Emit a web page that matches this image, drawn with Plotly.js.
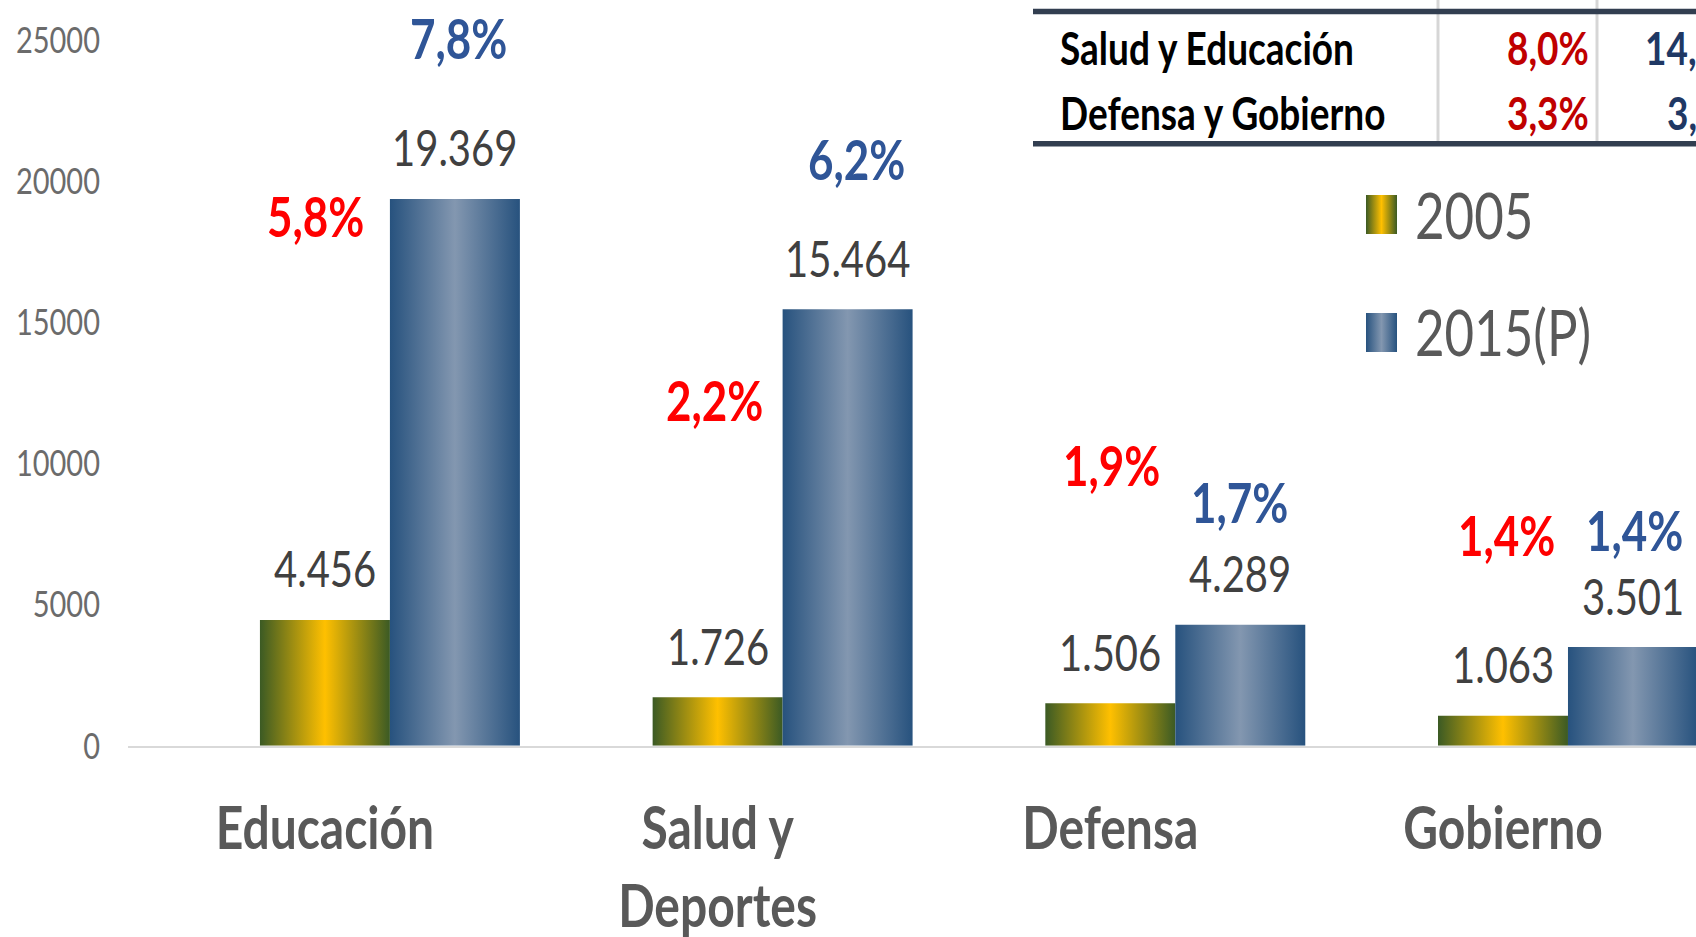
<!DOCTYPE html>
<html>
<head>
<meta charset="utf-8">
<script src="https://cdn.plot.ly/plotly-3.0.1.min.js"></script>
<style>
  html, body { margin: 0; padding: 0; background: #ffffff; width: 1696px; height: 937px; overflow: hidden; }
  #wrap { width: 1696px; height: 937px; position: relative; overflow: visible; }
  #chart { position: absolute; left: 0; top: 0; width: 1696px; height: 750px; transform: scaleY(1.24933); transform-origin: 0 0; }
</style>
</head>
<body>
<div id="wrap"><div id="chart"></div></div>
<script>
// ---------- DATA ----------
const categories = ['Educación', 'Salud y<br>Deportes', 'Defensa', 'Gobierno'];
const series2005 = [4456, 1726, 1506, 1063];
const series2015 = [19369, 15464, 4289, 3501];
const labels2005 = ['4.456', '1.726', '1.506', '1.063'];
const labels2015 = ['19.369', '15.464', '4.289', '3.501'];
const pct2005 = ['5,8%', '2,2%', '1,9%', '1,4%'];
const pct2015 = ['7,8%', '6,2%', '1,7%', '1,4%'];
const seriesNames = ['2005', '2015(P)'];
const yTicks = [0, 5000, 10000, 15000, 20000, 25000];
const tableRows = ['Salud y Educación', 'Defensa y Gobierno'];
const tableCol2005 = ['8,0%', '3,3%'];
const tableCol2015 = ['14,', '3,'];   // visible (cropped) part of the last column

// ---------- LAYOUT CONSTANTS (positions / styles) ----------
const S = 937 / 750;            // vertical stretch of the page
const W = 1696, H = 750;
const ML = 128, MB = 153, MT = 0, MR = 0;
const plotW = W - ML - MR, plotH = H - MT - MB;
const FONT = 'Lato, "Open Sans", "Noto Sans", sans-serif';
// page pixel (full x / stretched y) -> paper coords
const px = x => (x - ML) / plotW;
const py = y => 1 - (y / S - MT) / plotH;

// label offsets (pixels) relative to bar tops
const valShift = 41;
const pctShift2005 = [{dx: -9, dy: 323}, {dx: -3, dy: 238}, {dx: 1, dy: 191}, {dx: 4, dy: 145}];
const pctShift2015 = [{dx: 4, dy: 129}, {dx: 9, dy: 121}, {dx: -1, dy: 98}, {dx: 2, dy: 94}];
const barHalf = 65;

const traces = [
  {type: 'bar', name: seriesNames[0], x: categories, y: series2005,
   marker: {color: '#b59a10', line: {width: 0}}, hoverinfo: 'none'},
  {type: 'bar', name: seriesNames[1], x: categories, y: series2015,
   marker: {color: '#4f6f95', line: {width: 0}}, hoverinfo: 'none'}
];

const annotations = [];
categories.forEach((c, i) => {
  annotations.push({x: c, y: series2005[i], xref: 'x', yref: 'y', text: labels2005[i], showarrow: false,
    xshift: -barHalf, yshift: valShift, xanchor: 'center', yanchor: 'middle',
    font: {family: FONT, size: 40, color: '#404040'}});
  annotations.push({x: c, y: series2015[i], xref: 'x', yref: 'y', text: labels2015[i], showarrow: false,
    xshift: barHalf, yshift: valShift, xanchor: 'center', yanchor: 'middle',
    font: {family: FONT, size: 40, color: '#404040'}});
  annotations.push({x: c, y: series2005[i], xref: 'x', yref: 'y', text: '<b>' + pct2005[i] + '</b>', showarrow: false,
    xshift: -barHalf + pctShift2005[i].dx, yshift: pctShift2005[i].dy, xanchor: 'center', yanchor: 'middle',
    font: {family: FONT, size: 44, color: '#ff0000'}});
  annotations.push({x: c, y: series2015[i], xref: 'x', yref: 'y', text: '<b>' + pct2015[i] + '</b>', showarrow: false,
    xshift: barHalf + pctShift2015[i].dx, yshift: pctShift2015[i].dy, xanchor: 'center', yanchor: 'middle',
    font: {family: FONT, size: 44, color: '#2f5597'}});
});

// legend (hand-drawn)
const legendY = [214.5, 332];
seriesNames.forEach((n, i) => {
  annotations.push({xref: 'paper', yref: 'paper', x: px(1413), y: py(legendY[i]), text: n, showarrow: false,
    xanchor: 'left', yanchor: 'middle', font: {family: FONT, size: 51, color: '#595959'}});
});

// table
const rowY = [47, 112];
tableRows.forEach((r, i) => {
  annotations.push({xref: 'paper', yref: 'paper', x: px(1058), y: py(rowY[i]), text: '<b>' + r + '</b>', showarrow: false,
    xanchor: 'left', yanchor: 'middle', font: {family: FONT, size: 37, color: '#000000'}});
  annotations.push({xref: 'paper', yref: 'paper', x: px(1591), y: py(rowY[i]), text: '<b>' + tableCol2005[i] + '</b>', showarrow: false,
    xanchor: 'right', yanchor: 'middle', font: {family: FONT, size: 37, color: '#c00000'}});
  annotations.push({xref: 'paper', yref: 'paper', x: px(1699), y: py(rowY[i]), text: '<b>' + tableCol2015[i] + '</b>', showarrow: false,
    xanchor: 'right', yanchor: 'middle', font: {family: FONT, size: 37, color: '#1f3864'}});
});

const shapes = [
  // legend swatches (index 0,1)
  {type: 'rect', xref: 'paper', yref: 'paper', x0: px(1366), x1: px(1397), y0: py(234), y1: py(195),
   fillcolor: '#b59a10', line: {width: 0}, layer: 'above'},
  {type: 'rect', xref: 'paper', yref: 'paper', x0: px(1366), x1: px(1397), y0: py(352), y1: py(313),
   fillcolor: '#4f6f95', line: {width: 0}, layer: 'above'},
  // table vertical separators
  {type: 'line', xref: 'paper', yref: 'paper', x0: px(1438), x1: px(1438), y0: py(-5), y1: py(142),
   line: {color: '#d6d6d6', width: 3}, layer: 'above'},
  {type: 'line', xref: 'paper', yref: 'paper', x0: px(1597), x1: px(1597), y0: py(-5), y1: py(142),
   line: {color: '#d6d6d6', width: 3}, layer: 'above'},
  // table horizontal rules
  {type: 'line', xref: 'paper', yref: 'paper', x0: px(1033), x1: 1.05, y0: py(11.4), y1: py(11.4),
   line: {color: '#323e50', width: 4.4}, layer: 'above'},
  {type: 'line', xref: 'paper', yref: 'paper', x0: px(1033), x1: 1.05, y0: py(143.8), y1: py(143.8),
   line: {color: '#323e50', width: 4.4}, layer: 'above'}
];

const yTop = plotH / ((745.8 - 40) / S) * 25000;

const layout = {
  width: W, height: H,
  margin: {l: ML, r: MR, t: MT, b: MB, pad: 0},
  paper_bgcolor: '#ffffff', plot_bgcolor: '#ffffff',
  showlegend: false,
  barmode: 'group', bargap: 0.338, bargroupgap: 0,
  font: {family: FONT},
  xaxis: {
    type: 'category', range: [-0.667, 3.326], automargin: false,
    showgrid: false, zeroline: false, showline: true, linecolor: '#d9d9d9', linewidth: 2,
    ticks: '', ticklabelstandoff: 23, ticklabelshift: -barHalf, ticklabeloverflow: 'allow',
    tickfont: {family: FONT, size: 48, color: '#595959', weight: 'bold'}
  },
  yaxis: {
    range: [0, yTop], automargin: false, tickmode: 'array', tickvals: yTicks,
    ticktext: yTicks.map(String),
    showgrid: false, zeroline: false, showline: false, ticks: '', ticklabelstandoff: 27,
    ticklabeloverflow: 'allow',
    tickfont: {family: FONT, size: 29, color: '#6b6b6b'}
  },
  annotations: annotations,
  shapes: shapes
};

const gd = document.getElementById('chart');
Plotly.newPlot(gd, traces, layout, {staticPlot: true, displayModeBar: false}).then(function () {
  const ns = 'http://www.w3.org/2000/svg';
  const svg = gd.querySelector('svg.main-svg');
  let defs = svg.querySelector('defs');
  if (!defs) { defs = document.createElementNS(ns, 'defs'); svg.insertBefore(defs, svg.firstChild); }
  function grad(id, stops) {
    const lg = document.createElementNS(ns, 'linearGradient');
    lg.setAttribute('id', id);
    lg.setAttribute('x1', '0'); lg.setAttribute('y1', '0');
    lg.setAttribute('x2', '1'); lg.setAttribute('y2', '0');
    stops.forEach(s => {
      const st = document.createElementNS(ns, 'stop');
      st.setAttribute('offset', s[0]);
      st.setAttribute('stop-color', s[1]);
      lg.appendChild(st);
    });
    defs.appendChild(lg);
  }
  grad('grad2005', [[0, '#3b5a24'], [0.5, '#ffc000'], [1, '#3b5a24']]);
  grad('grad2015', [[0, '#27527e'], [0.5, '#8397b0'], [1, '#27527e']]);
  const fills = ['url(#grad2005)', 'url(#grad2015)'];
  gd.querySelectorAll('.barlayer .trace.bars').forEach((t, i) => {
    t.querySelectorAll('path').forEach(p => { p.style.fill = fills[i]; });
  });
  [0, 1].forEach(i => {
    const p = gd.querySelector('.shapelayer path[data-index="' + i + '"]');
    if (p) { p.style.fill = fills[i]; p.style.fillOpacity = 1; }
  });
});
</script>
</body>
</html>
